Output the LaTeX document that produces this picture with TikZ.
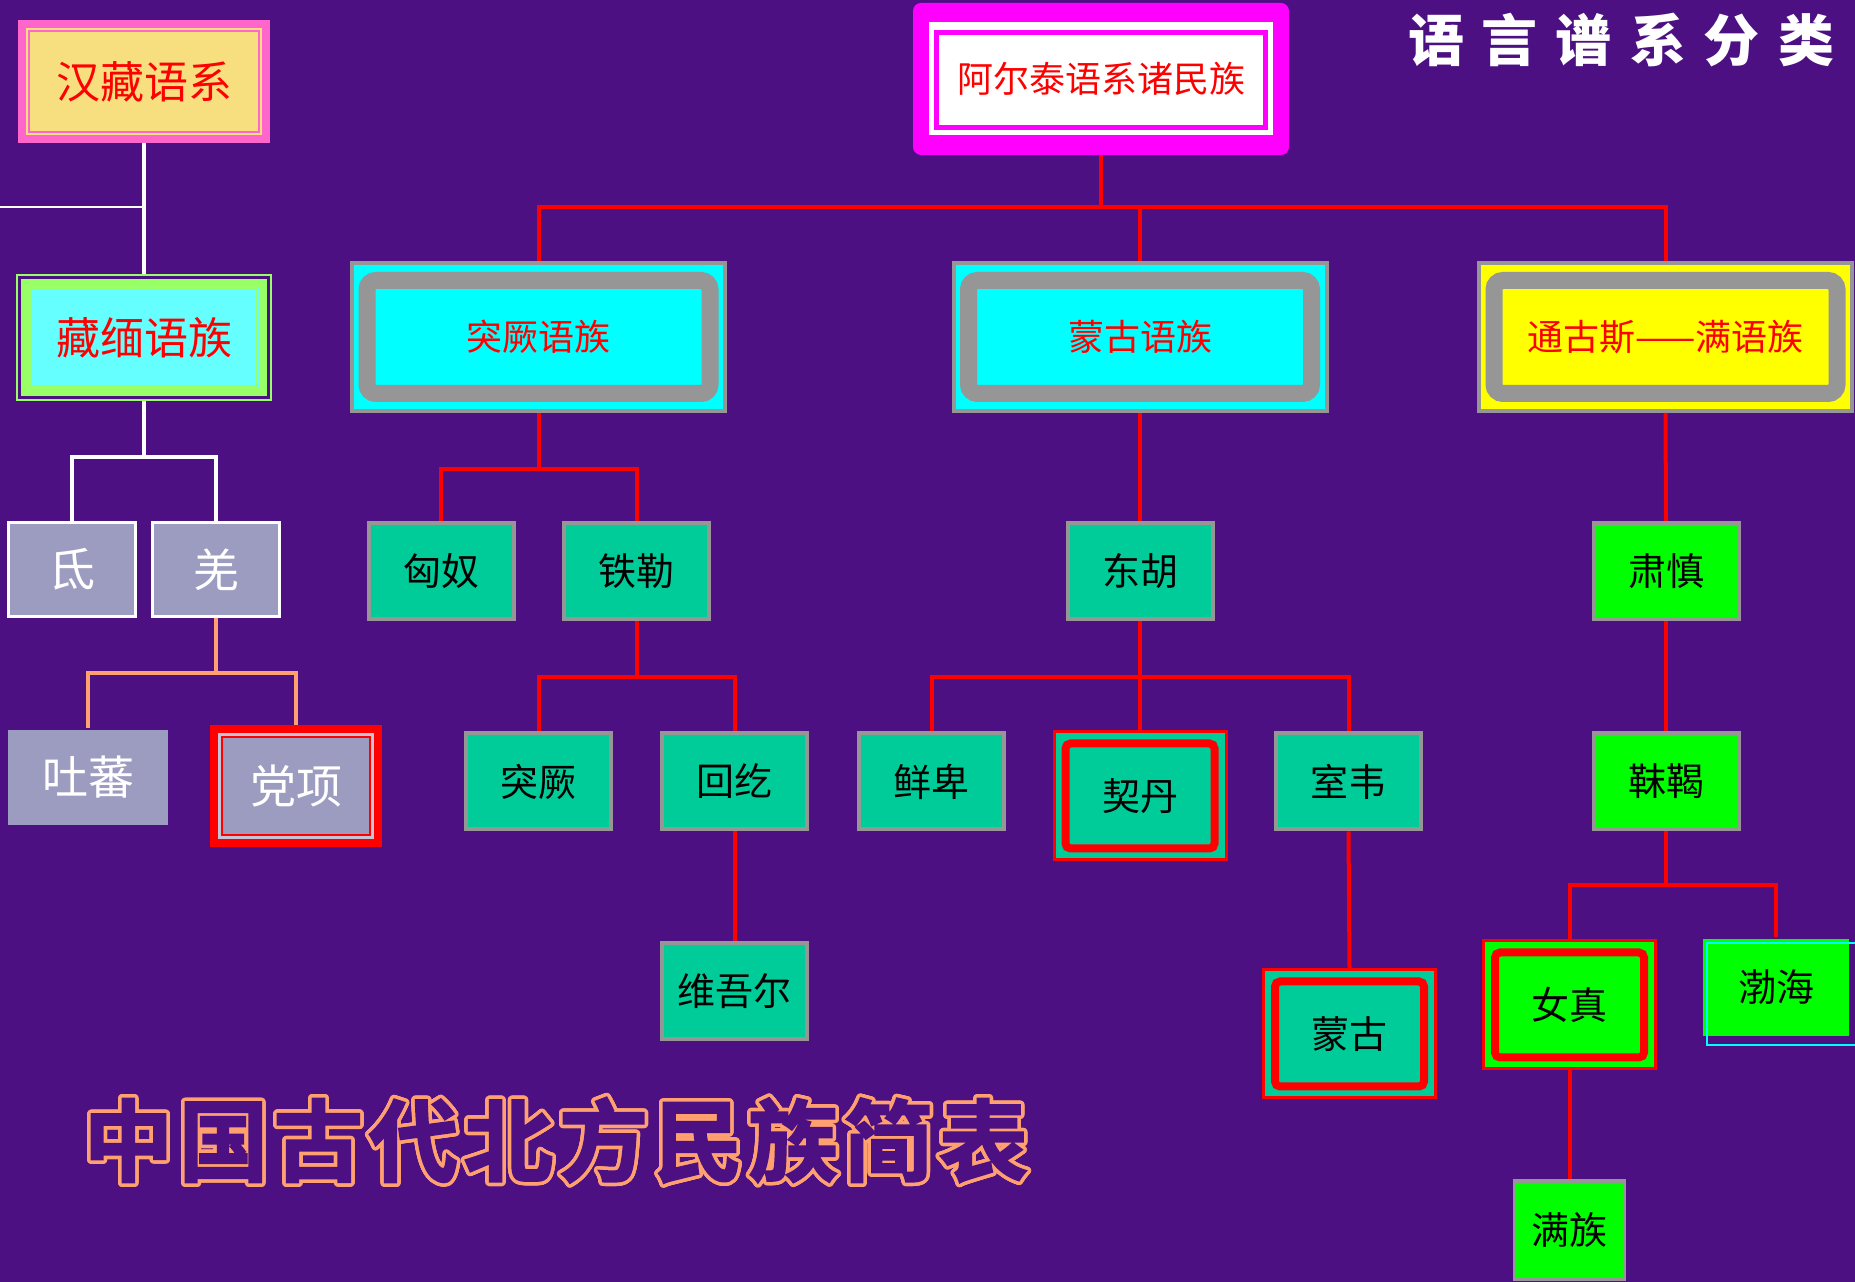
\documentclass[tikz,border=0pt]{standalone}
\usepackage{fontspec}
\usepackage{contour}
\newfontfamily\cjk{Noto Sans CJK SC}
\newfontfamily\heavycjk[UprightFont={* Bold}, FakeBold=2.5]{Noto Sans CJK SC}
\definecolor{bgpurple}{RGB}{76,16,130}
\definecolor{tealbox}{RGB}{0,204,153}
\definecolor{lilac}{RGB}{156,156,192}
\definecolor{boxgray}{RGB}{150,150,150}
\definecolor{hotpink}{RGB}{255,102,204}
\definecolor{sand}{RGB}{247,223,128}
\definecolor{mint}{RGB}{102,255,255}
\definecolor{leaf}{RGB}{153,255,102}
\definecolor{peach}{RGB}{255,160,112}
\definecolor{aqua}{RGB}{0,255,255}
\definecolor{fuchsia}{RGB}{255,0,255}
\definecolor{lemon}{RGB}{255,255,0}
\definecolor{lawn}{RGB}{0,255,0}
\contourlength{3.5pt}
\contournumber{32}
\newcommand\tg{\hspace{18pt}}
\newcommand\hg{\hspace{6pt}}

\begin{document}
\begin{tikzpicture}[x=1pt, y=1pt]
      \tikzstyle{tree} = [draw=red, line width=4pt]
      \tikzstyle{hantree} = [draw=white, line width=3.5pt]
      \tikzstyle{qiangtree} = [draw=peach, line width=4pt]
      \tikzstyle{ethnic} = [rectangle, inner sep=0pt, minimum width=145pt, minimum height=96pt, fill=tealbox, draw=boxgray, line width=4pt, text=black, font=\cjk\fontsize{38}{38}\selectfont]
      \tikzstyle{greenbox} = [ethnic, fill=lawn]
      \tikzstyle{hilite} = [ethnic, draw=red, line width=3pt, minimum width=172pt, minimum height=128pt,
        path picture={\draw [red, line width=8pt, rounded corners=5pt] ([shift={(11.5pt,-11.5pt)}]path picture bounding box.north west) rectangle ([shift={(-11.5pt,11.5pt)}]path picture bounding box.south east);}]
      \tikzstyle{tribe} = [rectangle, inner sep=0pt, minimum width=127pt, minimum height=94pt, fill=lilac, draw=white, line width=3pt, text=white, font=\cjk\fontsize{46}{46}\selectfont]
      \tikzstyle{langbox} = [rectangle, inner sep=0pt, minimum width=373pt, minimum height=148pt, fill=aqua, draw=boxgray, line width=4pt, text=red, font=\cjk\fontsize{36}{36}\selectfont,
        path picture={\draw [boxgray, line width=17pt, rounded corners=9pt] ([shift={(15pt,-17.5pt)}]path picture bounding box.north west) rectangle ([shift={(-15pt,17.5pt)}]path picture bounding box.south east);}]

      % background
      \fill [bgpurple] (0,0) rectangle (1855,1282);
      \useasboundingbox (0,0) rectangle (1855,1282);

      % altaic side
      \node (altai) at (1101,1203) [rectangle, inner sep=0pt, minimum width=376pt, minimum height=152pt, fill=fuchsia, rounded corners=8pt, text=red, font=\cjk\fontsize{36}{36}\selectfont,
        path picture={\fill [white, sharp corners] ([shift={(16pt,-19pt)}]path picture bounding box.north west) rectangle ([shift={(-16pt,20pt)}]path picture bounding box.south east);
          \draw [fuchsia, line width=5pt, sharp corners] ([shift={(23.5pt,-30pt)}]path picture bounding box.north west) rectangle ([shift={(-23.5pt,27.5pt)}]path picture bounding box.south east);}] {阿尔泰语系诸民族};
      \node (menggulang) [langbox, node distance=258pt, below of=altai, xshift=39pt] {蒙古语族};
      \node (tujuelang) [langbox, node distance=601.5pt, left of=menggulang] {突厥语族};
      \node (tungus) [langbox, fill=lemon, node distance=525.5pt, right of=menggulang] {通古斯——满语族};

      \node (xiongnu) [ethnic, node distance=234pt, below of=tujuelang, xshift=-97.5pt] {匈奴};
      \node (tiele) [ethnic, node distance=195.5pt, right of=xiongnu] {铁勒};
      \node (tujue) [ethnic, node distance=210.5pt, below of=tiele, xshift=-98pt] {突厥};
      \node (huihe) [ethnic, node distance=196pt, right of=tujue] {回纥};
      \node (weiwuer) [ethnic, node distance=209.5pt, below of=huihe] {维吾尔};

      \node (donghu) [ethnic, node distance=234pt, below of=menggulang] {东胡};
      \node (xianbei) [ethnic, node distance=210.5pt, below of=donghu, xshift=-208.5pt] {鲜卑};
      \node (qidan) [hilite, node distance=225pt, below of=donghu] {契丹};
      \node (shiwei) [ethnic, node distance=210.5pt, below of=donghu, xshift=208.5pt] {室韦};
      \node (menggu) [hilite, node distance=252.5pt, below of=shiwei, xshift=1pt] {蒙古};

      \node (sushen) [greenbox, node distance=234pt, below of=tungus, xshift=0.5pt] {肃慎};
      \node (mohe) [greenbox, node distance=210.5pt, below of=sushen] {靺鞨};
      \node (nvzhen) [hilite, fill=lawn, node distance=223.5pt, below of=mohe, xshift=-96.5pt] {女真};
      \node (bohai) [greenbox, draw=none, minimum width=146pt, minimum height=97pt, node distance=206pt, below of=mohe, xshift=110pt] {渤海};
      \node (manzu) [greenbox, line width=3.5pt, minimum width=110pt, minimum height=98pt, node distance=225pt, below of=nvzhen] {满族};
      \draw [aqua, line width=2pt] ([shift={(6pt,-6pt)}]bohai.north west) rectangle ([shift={(7pt,-7pt)}]bohai.south east);

      % sino-tibetan side
      \node (hanzang) at (144,1200.5) [rectangle, inner sep=0pt, minimum width=244pt, minimum height=115pt, fill=sand, draw=hotpink, line width=8pt, text=red, font=\cjk\fontsize{44}{44}\selectfont,
        path picture={\draw [hotpink, line width=2pt] ([shift={(7pt,-7pt)}]path picture bounding box.north west) rectangle ([shift={(-7pt,7pt)}]path picture bounding box.south east);}] {汉藏语系};
      \node (zangmian) [rectangle, inner sep=0pt, minimum width=254pt, minimum height=125pt, fill=mint, draw=leaf, line width=2pt, text=red, font=\cjk\fontsize{44}{44}\selectfont,
        node distance=256pt, below of=hanzang,
        path picture={\draw [bgpurple, line width=3pt] ([shift={(2.5pt,-2.5pt)}]path picture bounding box.north west) rectangle ([shift={(-2.5pt,2.5pt)}]path picture bounding box.south east);
          \draw [leaf, line width=8pt] ([shift={(8pt,-8pt)}]path picture bounding box.north west) rectangle ([shift={(-8pt,8pt)}]path picture bounding box.south east);
          \draw [leaf, line width=2pt] ([shift={(14pt,-14pt)}]path picture bounding box.north west) rectangle ([shift={(-14pt,14pt)}]path picture bounding box.south east);}] {藏缅语族};
      \node (di) [tribe, node distance=232pt, below of=zangmian, xshift=-72pt] {氐};
      \node (qiang) [tribe, node distance=144pt, right of=di] {羌};
      \node (tubo) [tribe, draw=none, minimum width=160pt, minimum height=95pt, node distance=208pt, below of=qiang, xshift=-128pt] {吐蕃};
      \node (dangxiang) [tribe, draw=red, line width=8pt, minimum width=164pt, minimum height=114pt, node distance=216.5pt, below of=qiang, xshift=80pt,
        path picture={\draw [lilac!60!white, line width=3pt] ([shift={(5.5pt,-5.5pt)}]path picture bounding box.north west) rectangle ([shift={(-5.5pt,5.5pt)}]path picture bounding box.south east);
          \draw [red, line width=2pt] ([shift={(8pt,-8pt)}]path picture bounding box.north west) rectangle ([shift={(-8pt,8pt)}]path picture bounding box.south east);}] {党项};

      % titles
      \node (caption) at (1621,1242) [text=white, font=\cjk\bfseries\fontsize{56}{56}\selectfont] {语\tg 言\tg 谱\tg 系\tg 分\tg 类};
      \node (heading) at (556,140) [text=bgpurple, font=\heavycjk\fontsize{89}{89}\selectfont] {\contour{peach}{中\hg 国\hg 古\hg 代\hg 北\hg 方\hg 民\hg 族\hg 简\hg 表}};

      % connectors
      \draw [tree] (altai.south) -- ++(0,-52) -| (tujuelang.north);
      \draw [tree] (altai.south) -- ++(0,-52) -| (menggulang.north);
      \draw [tree] (altai.south) -- ++(0,-52) -| (tungus.north);
      \draw [tree] (tujuelang.south) -- ++(0,-56) -| (xiongnu.north);
      \draw [tree] (tujuelang.south) -- ++(0,-56) -| (tiele.north);
      \draw [tree] (tiele.south) -- ++(0,-56) -| (tujue.north);
      \draw [tree] (tiele.south) -- ++(0,-56) -| (huihe.north);
      \draw [tree] (huihe.south) -- (weiwuer.north);
      \draw [tree] (menggulang.south) -- (donghu.north);
      \draw [tree] (donghu.south) -- ++(0,-56) -| (xianbei.north);
      \draw [tree] (donghu.south) -- ++(0,-56) -| (qidan.north);
      \draw [tree] (donghu.south) -- ++(0,-56) -| (shiwei.north);
      \draw [tree] (shiwei.south) -- (menggu.north);
      \draw [tree] (tungus.south) -- (sushen.north);
      \draw [tree] (sushen.south) -- (mohe.north);
      \draw [tree] (mohe.south) -- ++(0,-54) -| (nvzhen.north);
      \draw [tree] (mohe.south) -- ++(0,-54) -| (bohai.north);
      \draw [tree] (nvzhen.south) -- (manzu.north);

      \coordinate (hanleft) at (0,1075);
      \draw [hantree, line width=2pt] (hanleft) -- (hanleft -| hanzang.south);
      \draw [hantree] (hanzang.south) -- (zangmian.north);
      \draw [hantree] (zangmian.south) -- ++(0,-56) -| (di.north);
      \draw [hantree] (zangmian.south) -- ++(0,-56) -| (qiang.north);
      \draw [qiangtree] (qiang.south) -- ++(0,-55) -| (tubo.north);
      \draw [qiangtree] (qiang.south) -- ++(0,-55) -| (dangxiang.north);
    \end{tikzpicture}
\end{document}
